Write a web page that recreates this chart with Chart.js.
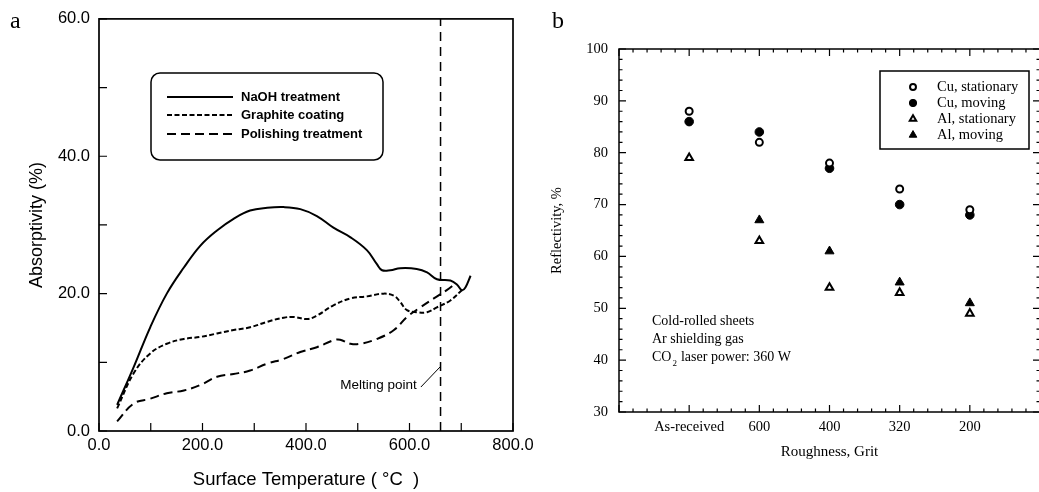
<!DOCTYPE html>
<html>
<head>
<meta charset="utf-8">
<script src="https://cdn.jsdelivr.net/npm/chart.js@4.4.1/dist/chart.umd.min.js"></script>
<style>
html,body{margin:0;padding:0;background:#fff;overflow:hidden;width:1039px;height:492px;}
.wrap{position:absolute;top:0;width:560px;height:492px;}
.tag{position:absolute;font-family:"Liberation Serif",serif;font-size:24px;color:#000;line-height:1;}
</style>
</head>
<body>
<div class="wrap" style="left:0"><canvas id="chartA" width="560" height="492"></canvas></div>
<div class="wrap" style="left:520px"><canvas id="chartB" width="560" height="492"></canvas></div>
<div class="tag" style="left:10px;top:8px">a</div>
<div class="tag" style="left:552px;top:8px">b</div>
<script>
// ---- panel a: absorptivity vs surface temperature
const naohTemp = [35,67,99,131,164,196,228,260,292,325,357,389,421,453,486,518,537,547,563,582,614,634,653,679,692,701,708,718];
const naohAbs  = [3.8,9.3,15.1,20.0,23.8,27.0,29.2,30.9,32.1,32.5,32.6,32.3,31.3,29.6,28.2,26.3,24.3,23.4,23.4,23.7,23.6,23.1,22.1,21.9,21.3,20.5,20.9,22.6];
const graphTemp = [35,67,99,131,164,196,228,260,292,325,357,376,402,421,453,486,518,550,570,582,595,614,634,653,679,701];
const graphAbs  = [3.3,8.4,11.3,12.7,13.4,13.7,14.2,14.7,15.1,15.9,16.5,16.6,16.3,16.8,18.3,19.3,19.6,20.0,19.7,18.8,17.6,17.3,17.3,18.0,19.0,20.5];
const polTemp = [35,67,99,131,164,196,228,260,292,325,357,389,421,453,466,486,505,537,570,595,621,647,672,688];
const polAbs  = [1.4,4.0,4.7,5.5,5.9,6.7,7.9,8.3,8.8,9.8,10.5,11.5,12.2,13.2,13.3,12.7,12.7,13.4,14.7,16.6,18.0,19.3,20.5,21.4];
const meltingPoint = 660;
const seriesNamesA = ['NaOH treatment','Graphite coating','Polishing treatment'];

// ---- panel b: reflectivity vs roughness
const roughCats = ['As-received','600','400','320','200'];
const cuStationary = [88,82,78,73,69];
const cuMoving     = [86,84,77,70,68];
const alStationary = [79,63,54,53,49];
const alMoving     = [null,67,61,55,51];
const seriesNamesB = ['Cu, stationary','Cu, moving','Al, stationary','Al, moving'];
const noteLines = ['Cold-rolled sheets','Ar shielding gas'];

const pts = (xs, ys) => xs.map((x,i)=>({x:x, y:ys[i]}));
const catPts = ys => ys.map((y,i)=>({x:i+1, y:y}));
const SANS = 'Liberation Sans';
const SERIF = 'Liberation Serif';

function tickFrame(cfg){
  return {
    id:'tickFrame',
    afterDraw(chart){
      const {ctx, chartArea:a} = chart;
      const xs = chart.scales.x, ys = chart.scales.y;
      ctx.save();
      ctx.strokeStyle = '#000';
      ctx.lineWidth = cfg.width;
      ctx.strokeRect(a.left, a.top, a.right-a.left, a.bottom-a.top);
      ctx.lineWidth = 1.2;
      ctx.beginPath();
      for(let v=xs.min; v<=xs.max+1e-9; v+=cfg.xMinor){
        const major = Math.abs(v/cfg.xMajor - Math.round(v/cfg.xMajor)) < 1e-6;
        const len = major ? cfg.majLen : cfg.minLen;
        const px = xs.getPixelForValue(v);
        ctx.moveTo(px, a.bottom); ctx.lineTo(px, a.bottom-len);
        if(cfg.allSides){ ctx.moveTo(px, a.top); ctx.lineTo(px, a.top+len); }
      }
      for(let v=ys.min; v<=ys.max+1e-9; v+=cfg.yMinor){
        const major = Math.abs(v/cfg.yMajor - Math.round(v/cfg.yMajor)) < 1e-6;
        const len = major ? cfg.majLen : cfg.minLen;
        const py = ys.getPixelForValue(v);
        ctx.moveTo(a.left, py); ctx.lineTo(a.left+len, py);
        if(cfg.allSides){ ctx.moveTo(a.right, py); ctx.lineTo(a.right-len, py); }
      }
      ctx.stroke();
      ctx.restore();
    }
  };
}

// legend + melting point note for a
const extrasA = {
  id:'extrasA',
  afterDraw(chart){
    const ctx = chart.ctx;
    ctx.save();
    ctx.strokeStyle = '#000';
    ctx.lineWidth = 1.5;
    ctx.beginPath();
    ctx.roundRect(151, 73, 232, 87, 9);
    ctx.stroke();
    ctx.font = 'bold 13px "' + SANS + '"';
    ctx.fillStyle = '#000';
    ctx.textBaseline = 'middle';
    const rows = [97,115,134];
    chart.data.datasets.filter(d=>d.label).forEach((d,i)=>{
      ctx.beginPath();
      ctx.lineWidth = d.borderWidth;
      ctx.setLineDash(d.borderDash || []);
      ctx.moveTo(167, rows[i]); ctx.lineTo(233, rows[i]);
      ctx.stroke();
      ctx.setLineDash([]);
      ctx.fillText(d.label, 241, rows[i]);
    });
    const xs = chart.scales.x, ys = chart.scales.y;
    ctx.font = '13.5px "' + SANS + '"';
    ctx.textAlign = 'right';
    ctx.fillText('Melting point', xs.getPixelForValue(614), ys.getPixelForValue(6.6));
    ctx.restore();
  }
};

new Chart(document.getElementById('chartA'), {
  type:'line',
  data:{datasets:[
    {label:seriesNamesA[0], data:pts(naohTemp,naohAbs), borderColor:'#000', borderWidth:2, pointRadius:0, tension:0.4},
    {label:seriesNamesA[1], data:pts(graphTemp,graphAbs), borderColor:'#000', borderWidth:2, borderDash:[5,2.5], pointRadius:0, tension:0.4},
    {label:seriesNamesA[2], data:pts(polTemp,polAbs), borderColor:'#000', borderWidth:2, borderDash:[9,5], pointRadius:0, tension:0.4},
    {data:[{x:meltingPoint,y:0},{x:meltingPoint,y:60}], borderColor:'#000', borderWidth:1.5, borderDash:[9,6], pointRadius:0},
    {data:[{x:622,y:6.4},{x:meltingPoint,y:9.4}], borderColor:'#000', borderWidth:1, pointRadius:0}
  ]},
  options:{
    responsive:false, animation:false, events:[],
    layout:{padding:{left:0, top:17, right:47, bottom:0}},
    plugins:{legend:{display:false}, tooltip:{enabled:false}},
    scales:{
      x:{type:'linear', min:0, max:800,
        ticks:{stepSize:100, autoSkip:false, maxRotation:0, padding:5, color:'#000',
          font:{family:SANS, size:16.5}, callback:v => v%200===0 ? v.toFixed(1) : ''},
        grid:{display:false, drawTicks:false}, border:{display:false},
        title:{display:true, text:'Surface Temperature ( °C  )', color:'#000', font:{family:SANS, size:18.5}, padding:{top:0, bottom:1}},
        afterFit(s){ s.height = 61; }},
      y:{min:0, max:60,
        ticks:{stepSize:10, autoSkip:false, padding:9, color:'#000',
          font:{family:SANS, size:16.5}, callback:v => v%20===0 ? v.toFixed(1) : ''},
        grid:{display:false, drawTicks:false}, border:{display:false},
        title:{display:true, text:'Absorptivity (%)', color:'#000', font:{family:SANS, size:18}, padding:{top:26, bottom:0}},
        afterFit(s){ s.width = 99; }}
    }
  },
  plugins:[tickFrame({width:1.7, xMinor:100, xMajor:100, yMinor:10, yMajor:10, majLen:8, minLen:8, allSides:false}), extrasA]
});

// legend + notes for b
const extrasB = {
  id:'extrasB',
  afterDraw(chart){
    const ctx = chart.ctx;
    ctx.save();
    ctx.strokeStyle = '#000';
    ctx.lineWidth = 1.5;
    ctx.strokeRect(360, 71, 149, 78);
    ctx.font = '14.5px "' + SERIF + '"';
    ctx.fillStyle = '#000';
    ctx.textBaseline = 'middle';
    const rows = [87,103,119,135];
    chart.data.datasets.forEach((d,i)=>{
      ctx.fillStyle = d.backgroundColor;
      ctx.strokeStyle = d.borderColor;
      ctx.lineWidth = d.borderWidth;
      Chart.helpers.drawPoint(ctx, {pointStyle:d.pointStyle, radius:d.pointRadius*0.85, rotation:0, borderWidth:d.borderWidth}, 393, rows[i]);
      ctx.fillStyle = '#000';
      ctx.fillText(d.label, 417, rows[i]);
    });
    ctx.font = '14px "' + SERIF + '"';
    ctx.fillText(noteLines[0], 132, 321);
    ctx.fillText(noteLines[1], 132, 339);
    ctx.fillText('CO', 132, 357);
    let w = ctx.measureText('CO').width;
    ctx.font = '9px "' + SERIF + '"';
    ctx.fillText('2', 132 + w + 1, 364);
    ctx.font = '14px "' + SERIF + '"';
    ctx.fillText(' laser power: 360 W', 132 + w + 6, 357);
    ctx.restore();
  }
};

new Chart(document.getElementById('chartB'), {
  type:'scatter',
  data:{datasets:[
    {label:seriesNamesB[0], data:catPts(cuStationary), pointStyle:'circle', pointRadius:3.5, borderWidth:2, backgroundColor:'#fff', borderColor:'#000'},
    {label:seriesNamesB[1], data:catPts(cuMoving), pointStyle:'circle', pointRadius:4.3, borderWidth:1, backgroundColor:'#000', borderColor:'#000'},
    {label:seriesNamesB[2], data:catPts(alStationary), pointStyle:'triangle', pointRadius:4.4, borderWidth:2, backgroundColor:'#fff', borderColor:'#000'},
    {label:seriesNamesB[3], data:catPts(alMoving), pointStyle:'triangle', pointRadius:5.2, borderWidth:1, backgroundColor:'#000', borderColor:'#000'}
  ]},
  options:{
    responsive:false, animation:false, events:[],
    layout:{padding:{left:0, top:49, right:40, bottom:0}},
    plugins:{legend:{display:false}, tooltip:{enabled:false}},
    scales:{
      x:{type:'linear', min:0, max:6,
        ticks:{stepSize:1, autoSkip:false, maxRotation:0, padding:6.6, color:'#000',
          font:{family:SERIF, size:14.5}, callback:v => roughCats[v-1] || ''},
        grid:{display:false, drawTicks:false}, border:{display:false},
        title:{display:true, text:'Roughness, Grit', color:'#000', font:{family:SERIF, size:15}, padding:{top:0, bottom:31}},
        afterFit(s){ s.height = 80; }},
      y:{min:30, max:100,
        ticks:{stepSize:10, autoSkip:false, padding:11, color:'#000', font:{family:SERIF, size:14.5}},
        grid:{display:false, drawTicks:false}, border:{display:false},
        title:{display:true, text:'Reflectivity, %', color:'#000', font:{family:SERIF, size:14.5}, padding:{top:28.3, bottom:0}},
        afterFit(s){ s.width = 99; }}
    }
  },
  plugins:[tickFrame({width:1.5, xMinor:0.2, xMajor:1, yMinor:2, yMajor:10, majLen:7, minLen:3.5, allSides:true}), extrasB]
});
</script>
</body>
</html>
